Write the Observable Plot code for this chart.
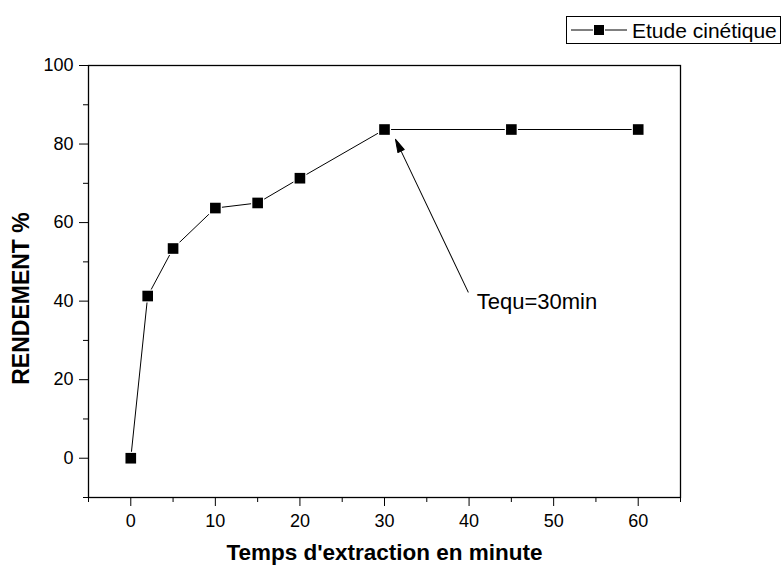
<!DOCTYPE html>
<html>
<head>
<meta charset="utf-8">
<script src="https://cdn.jsdelivr.net/npm/d3@7"></script>
<script src="https://cdn.jsdelivr.net/npm/@observablehq/plot@0.6"></script>
<style>
  body { margin: 0; background: #fff; font-family: "Liberation Sans", Arial, sans-serif; }
  #wrap { position: relative; width: 783px; height: 567px; }
  #legend { position: absolute; left: 566px; top: 16px; width: 215px; height: 28px; border: 1px solid #000; background: #fff; box-sizing: border-box; display: flex; align-items: center; font-size: 21px; line-height: 1; }
  #legend svg { margin-left: 4px; margin-right: 5px; }
</style>
</head>
<body>
<div id="wrap"></div>
<script>
const times = [0, 2, 5, 10, 15, 20, 30, 45, 60];
const rendement = [0, 41.3, 53.4, 63.7, 65.0, 71.3, 83.7, 83.7, 83.7];
const xTicks = [0, 10, 20, 30, 40, 50, 60];
const xMinor = [-5, 5, 15, 25, 35, 45, 55, 65];
const yTicks = [0, 20, 40, 60, 80, 100];
const yMinor = [-10, 10, 30, 50, 70, 90];
const arrowTail = {x: 39.9, y: 42.3};
const arrowHead = {x: 31.3, y: 81.2};
const annotation = [{x: 40.9, y: 39.8, text: "Tequ=30min"}];
const seriesName = "Etude cinétique";

const data = times.map((t, i) => ({t, r: rendement[i]}));

const font = "Liberation Sans, Arial, sans-serif";

function baseMarks() {
  return [
    Plot.frame({stroke: "#000", strokeWidth: 1.3}),
    Plot.axisX({ticks: xTicks, tickSize: 9, tickPadding: 8, fontSize: 18, label: "Temps d'extraction en minute", labelAnchor: "center", labelArrow: "none", labelOffset: 62}),
    Plot.axisX({ticks: xMinor, tickSize: 5, tickFormat: () => "", label: null}),
    Plot.axisY({ticks: yTicks, tickSize: 9, tickPadding: 6, fontSize: 18, label: "RENDEMENT %", labelAnchor: "center", labelArrow: "none", labelOffset: 76}),
    Plot.axisY({ticks: yMinor, tickSize: 5, tickFormat: () => "", label: null}),
    Plot.line(data, {x: "t", y: "r", stroke: "#000", strokeWidth: 1}),
    Plot.dot(data, {x: "t", y: "r", symbol: "square", r: 6, fill: "#000", stroke: "#fff", strokeWidth: 2.5, paintOrder: "stroke"}),
    Plot.text(annotation, {x: "x", y: "y", text: "text", textAnchor: "start", fontSize: 22})
  ];
}

const opts = {
  width: 783,
  height: 567,
  marginLeft: 88,
  marginRight: 103,
  marginTop: 65,
  marginBottom: 70,
  style: {fontFamily: font, fontSize: "18px", color: "#000", background: "#fff"},
  x: {domain: [-5, 65]},
  y: {domain: [-10, 100]}
};

// first pass to get pixel scales for the annotation arrow
const probe = Plot.plot({...opts, marks: baseMarks()});
const sx = probe.scale("x"), sy = probe.scale("y");
const px1 = sx.apply(arrowTail.x), py1 = sy.apply(arrowTail.y);
const px2 = sx.apply(arrowHead.x), py2 = sy.apply(arrowHead.y);
const len = Math.hypot(px2 - px1, py2 - py1);
const ang = Math.atan2(px2 - px1, -(py2 - py1)) * 180 / Math.PI;

const filledArrow = {
  draw(context, l) {
    const hl = 13, hw = 3.5;
    context.moveTo(0, 0);
    context.lineTo(0, -l + hl * 0.6);
    context.moveTo(0, -l);
    context.lineTo(-hw, -l + hl);
    context.lineTo(hw, -l + hl);
    context.closePath();
  }
};

const chart = Plot.plot({
  ...opts,
  marks: [
    ...baseMarks(),
    Plot.vector([arrowTail], {x: "x", y: "y", length: len, rotate: ang, anchor: "start", shape: filledArrow, stroke: "#000", fill: "#000", strokeWidth: 1})
  ]
});

chart.querySelectorAll('[aria-label="x-axis label"]').forEach(t => {
  t.style.fontWeight = "bold";
  t.style.fontSize = "22.5px";
});
chart.querySelectorAll('[aria-label="y-axis label"]').forEach(t => {
  t.style.fontWeight = "bold";
  t.style.fontSize = "23px";
  const tr = t.getAttribute("transform") || "";
  t.setAttribute("transform", `translate(0,17) ${tr}`);
});

const wrap = document.getElementById("wrap");
wrap.appendChild(chart);

const legend = document.createElement("div");
legend.id = "legend";
legend.innerHTML = `<svg width="56" height="14"><line x1="0" y1="7" x2="56" y2="7" stroke="#000" stroke-width="1"/><rect x="23" y="2" width="10" height="10" fill="#000" stroke="#fff" stroke-width="2" paint-order="stroke"/></svg><span>${seriesName}</span>`;
wrap.appendChild(legend);
</script>
</body>
</html>
